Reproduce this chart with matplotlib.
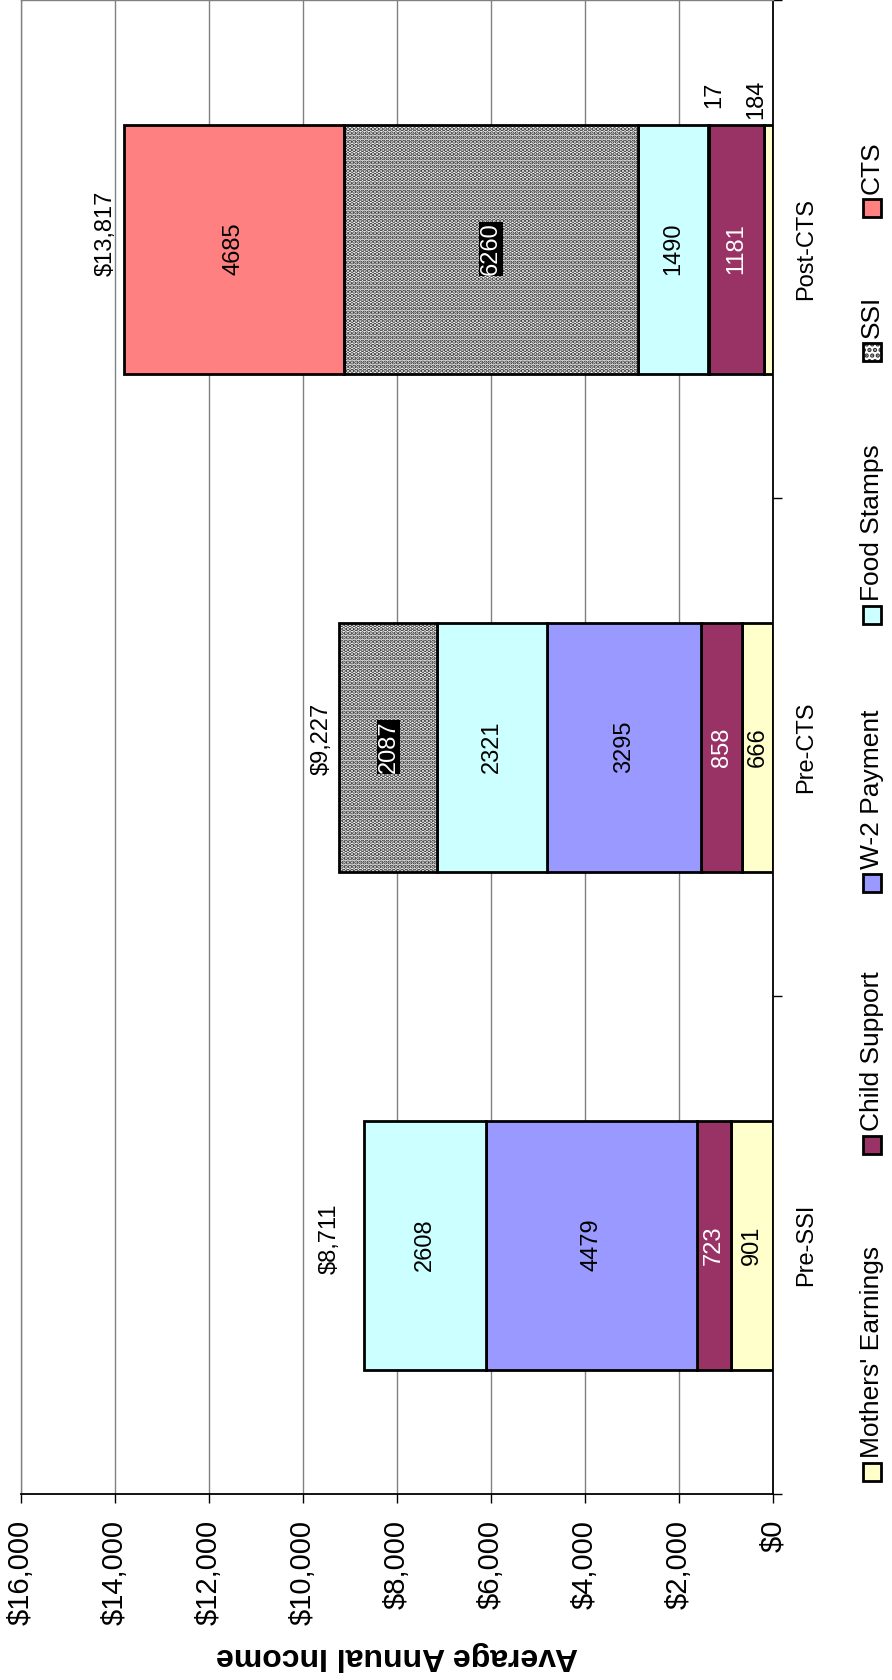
import numpy as np
import matplotlib
matplotlib.use('Agg')
import matplotlib.pyplot as plt
from matplotlib.patches import Rectangle
from matplotlib.ticker import FixedLocator

plt.rcParams['font.family'] = ['Liberation Sans', 'DejaVu Sans']
plt.rcParams['hatch.linewidth'] = 2.2

categories = ['Pre-SSI', 'Pre-CTS', 'Post-CTS']
series = ["Mothers' Earnings", 'Child Support', 'W-2 Payment', 'Food Stamps', 'SSI', 'CTS']
mothers_earnings = [901, 666, 184]
child_support = [723, 858, 1181]
w2_payment = [4479, 3295, 17]
food_stamps = [2608, 2321, 1490]
ssi = [0, 2087, 6260]
cts = [0, 0, 4685]
values = [mothers_earnings, child_support, w2_payment, food_stamps, ssi, cts]
value_ticks = list(range(0, 16001, 2000))

colors = ['#FFFFCC', '#993366', '#9999FF', '#CCFFFF', 'white', '#FF8080']
text_colors = ['black', 'white', 'black', 'black', 'white', 'black']
dots = '#303030'
# small segments whose labels sit above the bar (pixel offsets)
outside = {(2, 0): (-12, 25), (2, 2): (6, 30)}
# total labels sit just beyond the end of each bar (pixel offsets)
total_offsets = [(-34, 6), (-18, 8), (-18, 16)]

W, H = 892, 1680
fig = plt.figure(figsize=(W / 100, H / 100), dpi=100)
ax = fig.add_axes([21 / W, (H - 1494) / H, (773 - 21) / W, 1494 / H])

pos = np.arange(len(categories))
left = np.zeros(len(categories))
for i, vals in enumerate(values):
    vals = np.array(vals, dtype=float)
    m = vals > 0
    if series[i] == 'SSI':
        ax.barh(pos[m], vals[m], 0.5, left=left[m], color='white',
                edgecolor=dots, hatch='....', linewidth=0, zorder=2)
        ax.barh(pos[m], vals[m], 0.5, left=left[m], fill=False,
                edgecolor='black', linewidth=2, zorder=3)
    else:
        ax.barh(pos[m], vals[m], 0.5, left=left[m], color=colors[i],
                edgecolor='black', linewidth=2, zorder=2)
    for j in range(len(categories)):
        if vals[j] <= 0:
            continue
        cx = left[j] + vals[j] / 2
        if (j, i) in outside:
            dx, dy = outside[(j, i)]
            ax.annotate(f'{vals[j]:.0f}', xy=(cx, pos[j] + 0.25), xytext=(dx, dy),
                        textcoords='offset pixels', rotation=90, ha='center',
                        va='center', fontsize=17, zorder=5)
        elif series[i] == 'SSI':
            ax.text(cx, pos[j], f'{vals[j]:.0f}', rotation=90, ha='center', va='center',
                    fontsize=17, color='white', zorder=5,
                    bbox=dict(facecolor='black', edgecolor='none', pad=0.5))
        else:
            ax.text(cx, pos[j], f'{vals[j]:.0f}', rotation=90, ha='center', va='center',
                    fontsize=17, color=text_colors[i], zorder=5)
    left += vals

for j, total in enumerate(left):
    ax.annotate(f'${total:,.0f}', xy=(total, pos[j]), xytext=total_offsets[j],
                textcoords='offset pixels', rotation=90, ha='center', va='center',
                fontsize=17, zorder=5)

ax.set_xlim(16000, 0)
ax.set_ylim(-0.5, 2.5)
ax.set_xticks(value_ticks)
ax.set_xticklabels([f'${v:,}' for v in value_ticks], rotation=90, fontsize=21)
ax.tick_params(axis='x', length=6.5, width=1, pad=12, direction='out')
ax.grid(axis='x', color='#808080', linewidth=1)
ax.set_axisbelow(True)

ax.yaxis.tick_right()
ax.set_yticks(pos)
ax.set_yticklabels(categories, rotation=90, va='center', ha='left', fontsize=17)
ax.yaxis.set_minor_locator(FixedLocator([-0.5, 0.5, 1.5, 2.5]))
ax.tick_params(axis='y', which='major', length=0, pad=16)
ax.tick_params(axis='y', which='minor', right=True, left=False, length=6.5, width=1)

for s in ['left', 'top']:
    ax.spines[s].set_color('#808080')
    ax.spines[s].set_linewidth(1)
for s in ['bottom', 'right']:
    ax.spines[s].set_color('black')
    ax.spines[s].set_linewidth(1.3)

ax.set_xlabel('Average Annual Income', rotation=180, fontsize=23, fontweight='bold')
ax.xaxis.set_label_coords(0.5, -147 / 1494)

# legend, drawn along the right edge reading upwards
legend_centers = [1472, 1145, 883, 615, 352, 208]
sq = 18
for i, name in enumerate(series):
    cy = legend_centers[i]
    x0, y0 = (872 - sq / 2) / W, 1 - (cy + sq / 2) / H
    if name == 'SSI':
        fig.patches.append(Rectangle((x0, y0), sq / W, sq / H, transform=fig.transFigure,
                                     facecolor='white', edgecolor=dots, hatch='...',
                                     linewidth=0))
        fig.patches.append(Rectangle((x0, y0), sq / W, sq / H, transform=fig.transFigure,
                                     fill=False, edgecolor='black', linewidth=2))
    else:
        fig.patches.append(Rectangle((x0, y0), sq / W, sq / H, transform=fig.transFigure,
                                     facecolor=colors[i], edgecolor='black', linewidth=2))
    fig.text(872 / W, 1 - (cy - sq / 2 - 5) / H, name, rotation=90, ha='center',
             va='bottom', fontsize=19)

fig.savefig('out.png', dpi=100)
